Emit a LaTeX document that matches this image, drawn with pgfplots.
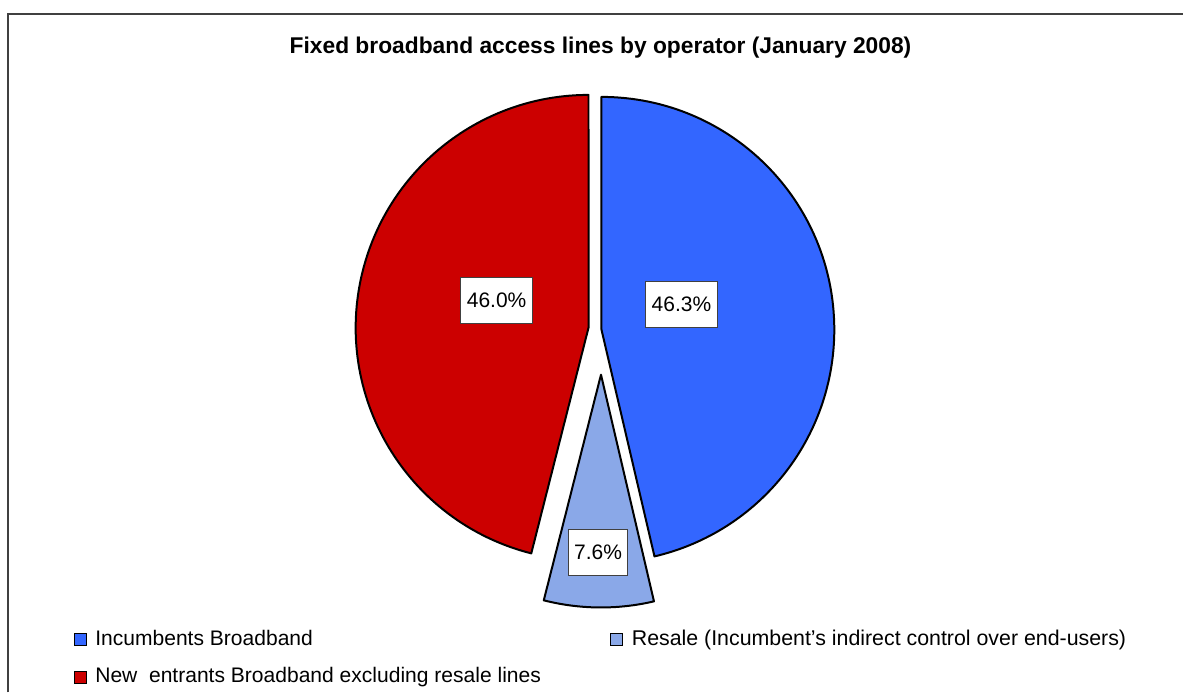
\documentclass[border=0pt]{standalone}
\usepackage{pgfplots}
\usepackage{pgfplotstable}
\pgfplotsset{compat=1.18}
\usepackage{fontspec}
\setmainfont{Liberation Sans}
\definecolor{incblue}{HTML}{3366FF}
\definecolor{resblue}{HTML}{8AA8E8}
\definecolor{newred}{HTML}{CC0000}
\definecolor{framegray}{HTML}{404040}

% slice values (%), apex position (px), label box centre (px)
\pgfplotstableread{
label value cx cy lx ly
Incumbents 46.3 602 330 682 305
Resale 7.6 601.5 375 598.5 552.5
NewEntrants 46.0 589 328 497 301
}\piedata

\begin{document}
\begin{tikzpicture}
\pgfplotstablegetelem{0}{value}\of\piedata \let\va\pgfplotsretval
\pgfplotstablegetelem{1}{value}\of\piedata \let\vb\pgfplotsretval
\pgfplotstablegetelem{2}{value}\of\piedata \let\vc\pgfplotsretval
\pgfplotstablegetelem{0}{cx}\of\piedata \let\xa\pgfplotsretval
\pgfplotstablegetelem{1}{cx}\of\piedata \let\xb\pgfplotsretval
\pgfplotstablegetelem{2}{cx}\of\piedata \let\xc\pgfplotsretval
\pgfplotstablegetelem{0}{cy}\of\piedata \let\ya\pgfplotsretval
\pgfplotstablegetelem{1}{cy}\of\piedata \let\yb\pgfplotsretval
\pgfplotstablegetelem{2}{cy}\of\piedata \let\yc\pgfplotsretval
\pgfplotstablegetelem{0}{lx}\of\piedata \let\lxa\pgfplotsretval
\pgfplotstablegetelem{1}{lx}\of\piedata \let\lxb\pgfplotsretval
\pgfplotstablegetelem{2}{lx}\of\piedata \let\lxc\pgfplotsretval
\pgfplotstablegetelem{0}{ly}\of\piedata \let\lya\pgfplotsretval
\pgfplotstablegetelem{1}{ly}\of\piedata \let\lyb\pgfplotsretval
\pgfplotstablegetelem{2}{ly}\of\piedata \let\lyc\pgfplotsretval
\pgfmathsetmacro\total{\va+\vb+\vc}
\pgfmathsetmacro\aA{90}
\pgfmathsetmacro\aB{90-3.6*(\va/\total)*100}
\pgfmathsetmacro\aC{\aB-3.6*(\vb/\total)*100}
\pgfmathsetmacro\aD{\aC-3.6*(\vc/\total)*100}
\def\R{116.5pt}
\tikzset{
  lbl/.style={fill=white, draw=black!75, line width=0.5pt, inner xsep=3pt, minimum height=23pt, font=\fontsize{10.5}{12.6}\selectfont},
  leg/.style={anchor=base west, inner sep=0pt, font=\fontsize{10.53}{12.6}\selectfont},
}
\begin{axis}[
  width=592pt, height=346.5pt, scale only axis,
  xmin=0, xmax=1184, ymin=0, ymax=693, y dir=reverse,
  axis lines=none, clip=false,
  /pgf/number format/assume math mode=true,
]
\path (axis cs:0,0) rectangle (axis cs:1184,693);
% frame
\draw[framegray, line width=1pt] (axis cs:8,693) -- (axis cs:8,14) -- (axis cs:1184,14);
% title
\node[anchor=base, font=\fontsize{11.4}{13.7}\selectfont\bfseries] at (axis cs:601,54)
  {Fixed broadband access lines by operator (January 2008)};
% slices
\filldraw[fill=incblue, draw=black, line width=1pt, line join=round]
  (axis cs:\xa,\ya) -- ++(\aA:\R) arc[start angle=\aA, end angle=\aB, radius=\R] -- cycle;
\filldraw[fill=resblue, draw=black, line width=1pt, line join=round]
  (axis cs:\xb,\yb) -- ++(\aB:\R) arc[start angle=\aB, end angle=\aC, radius=\R] -- cycle;
\filldraw[fill=newred, draw=black, line width=1pt, line join=round]
  (axis cs:\xc,\yc) -- ++(\aC:\R) arc[start angle=\aC, end angle=\aD, radius=\R] -- cycle;
% data labels
\node[lbl] at (axis cs:\lxa,\lya) {\pgfmathprintnumber[fixed,precision=1,zerofill,assume math mode=true]{\va}\%};
\node[lbl] at (axis cs:\lxb,\lyb) {\pgfmathprintnumber[fixed,precision=1,zerofill,assume math mode=true]{\vb}\%};
\node[lbl] at (axis cs:\lxc,\lyc) {\pgfmathprintnumber[fixed,precision=1,zerofill,assume math mode=true]{\vc}\%};
% legend
\filldraw[fill=incblue, draw=black, line width=0.75pt] (axis cs:74.5,634) rectangle (axis cs:86.5,646);
\node[leg] at (axis cs:95,646) {Incumbents Broadband};
\filldraw[fill=resblue, draw=black, line width=0.75pt] (axis cs:611,634) rectangle (axis cs:623,646);
\node[leg, font=\fontsize{10.68}{12.6}\selectfont] at (axis cs:632,646) {Resale (Incumbent\symbol{39}s indirect control over end-users)};
\filldraw[fill=newred, draw=black, line width=0.75pt] (axis cs:74.5,672) rectangle (axis cs:86.5,684);
\node[leg] at (axis cs:95,683) {New\ \ entrants Broadband excluding resale lines};
\end{axis}
\end{tikzpicture}
\end{document}
